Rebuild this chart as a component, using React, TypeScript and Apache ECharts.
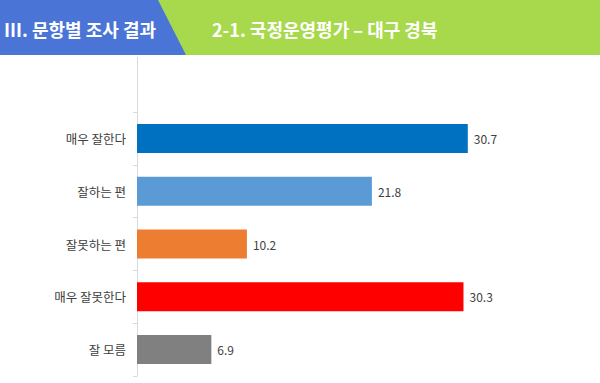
import React, { useEffect, useRef } from "react";
import * as echarts from "echarts";

const categories = ["매우 잘한다", "잘하는 편", "잘못하는 편", "매우 잘못한다", "잘 모름"];
const values = [30.7, 21.8, 10.2, 30.3, 6.9];
const barColors = ["#0070C0", "#5B9BD5", "#ED7D31", "#FF0000", "#808080"];
const headerLeft = "Ⅲ. 문항별 조사 결과";
const headerRight = "2-1. 국정운영평가 – 대구 경북";

const FONT = "'Noto Sans CJK KR', 'Noto Sans', sans-serif";

export default function App() {
  const ref = useRef<HTMLDivElement>(null);
  useEffect(() => {
    if (!ref.current) return;
    const chart = echarts.init(ref.current, undefined, { renderer: "svg" });
    chart.setOption({
      animation: false,
      backgroundColor: "#ffffff",
      textStyle: { fontFamily: FONT },
      grid: { left: 137, right: 32, top: 112, bottom: 7, containLabel: false },
      xAxis: {
        type: "value",
        min: 0,
        max: 40,
        show: false,
      },
      yAxis: {
        type: "category",
        inverse: true,
        data: categories,
        axisLine: { show: true, lineStyle: { color: "#D9D9D9", width: 1 } },
        axisTick: { show: true, length: 4, lineStyle: { color: "#D9D9D9" } },
        axisLabel: { color: "#404040", fontSize: 12.5, margin: 11, fontFamily: FONT },
      },
      series: [
        {
          type: "bar",
          data: values.map((v, i) => ({ value: v, itemStyle: { color: barColors[i] } })),
          barCategoryGap: "45%",
          label: {
            show: true,
            position: "right",
            distance: 6,
            color: "#404040",
            fontSize: 12,
            fontFamily: FONT,
            formatter: (p: any) => p.value.toFixed(1),
          },
        },
      ],
      graphic: [
        {
          type: "rect",
          shape: { x: 0, y: 0, width: 600, height: 55 },
          style: { fill: "#A8D94C" },
        },
        {
          type: "polygon",
          shape: { points: [[0, 0], [158, 0], [186, 55], [0, 55]] },
          style: { fill: "#4A74D6" },
        },
        {
          type: "text",
          x: 4,
          y: 29,
          style: {
            text: headerLeft,
            fill: "#ffffff",
            font: `bold 18px ${FONT}`,
            verticalAlign: "middle",
          },
        },
        {
          type: "text",
          x: 212,
          y: 29,
          style: {
            text: headerRight,
            fill: "#ffffff",
            font: `bold 18px ${FONT}`,
            verticalAlign: "middle",
          },
        },
        {
          type: "line",
          shape: { x1: 137.5, y1: 57, x2: 137.5, y2: 112 },
          style: { stroke: "#D9D9D9", lineWidth: 1 },
        },
      ],
    });
    return () => chart.dispose();
  }, []);
  return (
    <div
      ref={ref}
      style={{ position: "fixed", left: 0, top: 0, width: 600, height: 383 }}
    />
  );
}
